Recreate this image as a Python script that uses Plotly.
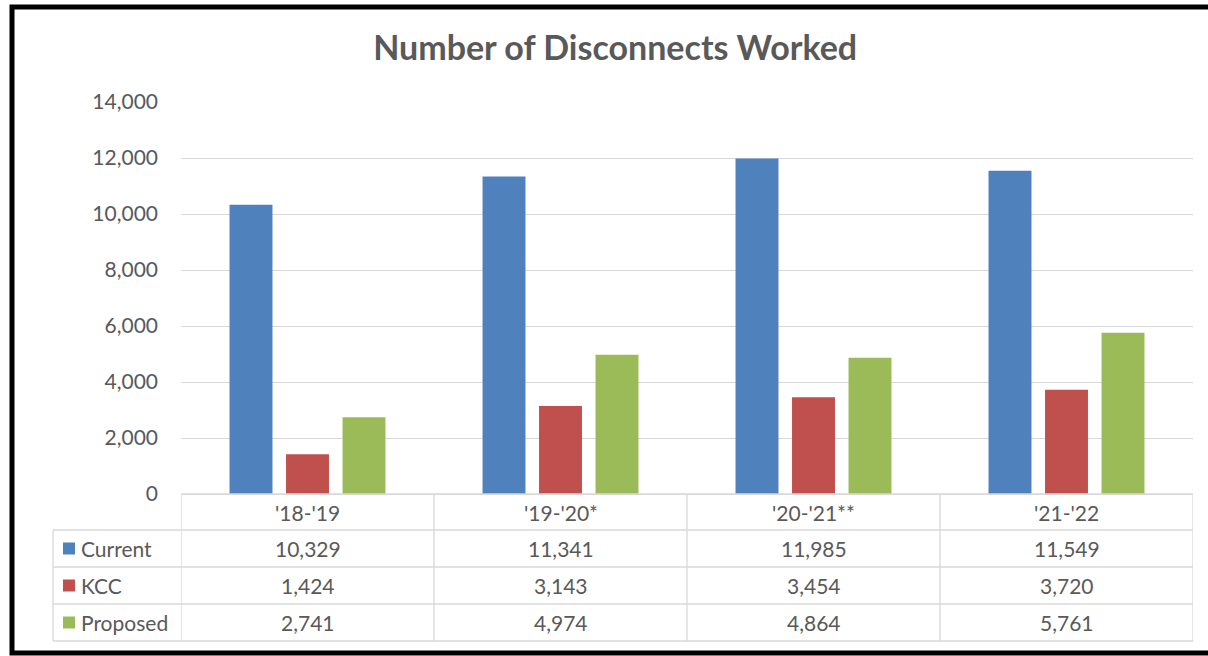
import plotly.graph_objects as go

# data
seasons = ["'18-'19", "'19-'20*", "'20-'21**", "'21-'22"]
current = [10329, 11341, 11985, 11549]
kcc = [1424, 3143, 3454, 3720]
proposed = [2741, 4974, 4864, 5761]

series = [
    ("Current", current, "#4F81BD"),
    ("KCC", kcc, "#C0504D"),
    ("Proposed", proposed, "#9BBB59"),
]

W, H = 1208, 656
L, R, T, B = 181, 1193, 102, 494
FONT = "Lato"
TXT = "#595959"
GRID = "#d9d9d9"
FS = 21


def px_x(x):
    return (x - L) / (R - L)


def px_y(y):
    return (B - y) / (B - T)


fig = go.Figure()
for name, vals, color in series:
    fig.add_trace(go.Bar(x=seasons, y=vals, name=name, marker_color=color,
                         marker_line_width=0))

shapes = []
annotations = []

# table lines
row_lines = [494, 530, 567, 604, 641]
for i, yy in enumerate(row_lines):
    x0 = L if i == 0 else 53
    shapes.append(dict(type="line", xref="paper", yref="paper",
                       x0=px_x(x0), x1=1, y0=px_y(yy), y1=px_y(yy),
                       line=dict(color=GRID, width=1.3)))
for k in range(len(seasons) + 1):
    shapes.append(dict(type="line", xref="x", yref="paper",
                       x0=k - 0.5, x1=k - 0.5, y0=px_y(494), y1=px_y(641),
                       line=dict(color=GRID, width=1.3)))
shapes.append(dict(type="line", xref="paper", yref="paper",
                   x0=px_x(53), x1=px_x(53), y0=px_y(530), y1=px_y(641),
                   line=dict(color=GRID, width=1.3)))

# header row
for s in seasons:
    annotations.append(dict(x=s, xref="x", y=px_y(512), yref="paper",
                            text=s, showarrow=False, yanchor="middle",
                            font=dict(size=FS, color=TXT, family=FONT)))

# series rows
row_centers = [548.5, 585.5, 622.5]
for (name, vals, color), yc in zip(series, row_centers):
    shapes.append(dict(type="rect", xref="paper", yref="paper",
                       x0=px_x(63), x1=px_x(75), y0=px_y(yc - 6), y1=px_y(yc + 6),
                       fillcolor=color, line=dict(width=0)))
    annotations.append(dict(x=px_x(79), xref="paper", y=px_y(yc), yref="paper",
                            text=name, showarrow=False, xanchor="left", yanchor="middle",
                            font=dict(size=FS, color=TXT, family=FONT)))
    for s, v in zip(seasons, vals):
        annotations.append(dict(x=s, xref="x", y=px_y(yc), yref="paper",
                                text=f"{v:,}", showarrow=False, yanchor="middle",
                                font=dict(size=FS, color=TXT, family=FONT)))

# outer frame
shapes.append(dict(type="rect", xref="paper", yref="paper",
                   x0=px_x(12), x1=px_x(1220), y0=px_y(7), y1=px_y(653),
                   line=dict(color="black", width=5)))

fig.update_layout(
    width=W, height=H,
    margin=dict(l=L, r=W - R, t=T, b=H - B),
    paper_bgcolor="white", plot_bgcolor="white",
    title=dict(text="<b>Number of Disconnects Worked</b>", x=0.429, xanchor="center",
               xref="paper", y=1 - 48 / H, yanchor="middle",
               font=dict(size=34, color=TXT, family=FONT)),
    barmode="group", bargap=0.33, bargroupgap=0.24,
    showlegend=False,
    xaxis=dict(range=[-0.5, 3.5], showticklabels=False, showgrid=False,
               zeroline=False, showline=False, fixedrange=True),
    yaxis=dict(range=[0, 14000], dtick=2000, tickformat=",", showgrid=True,
               gridcolor=GRID, gridwidth=1.3, zeroline=True, zerolinecolor=GRID,
               zerolinewidth=1.3, ticklabelstandoff=22,
               tickfont=dict(size=FS, color=TXT, family=FONT)),
    shapes=shapes,
    annotations=annotations,
)

fig.write_html("out.html", config={"displayModeBar": False},
               post_script="document.body.style.margin='0';")
